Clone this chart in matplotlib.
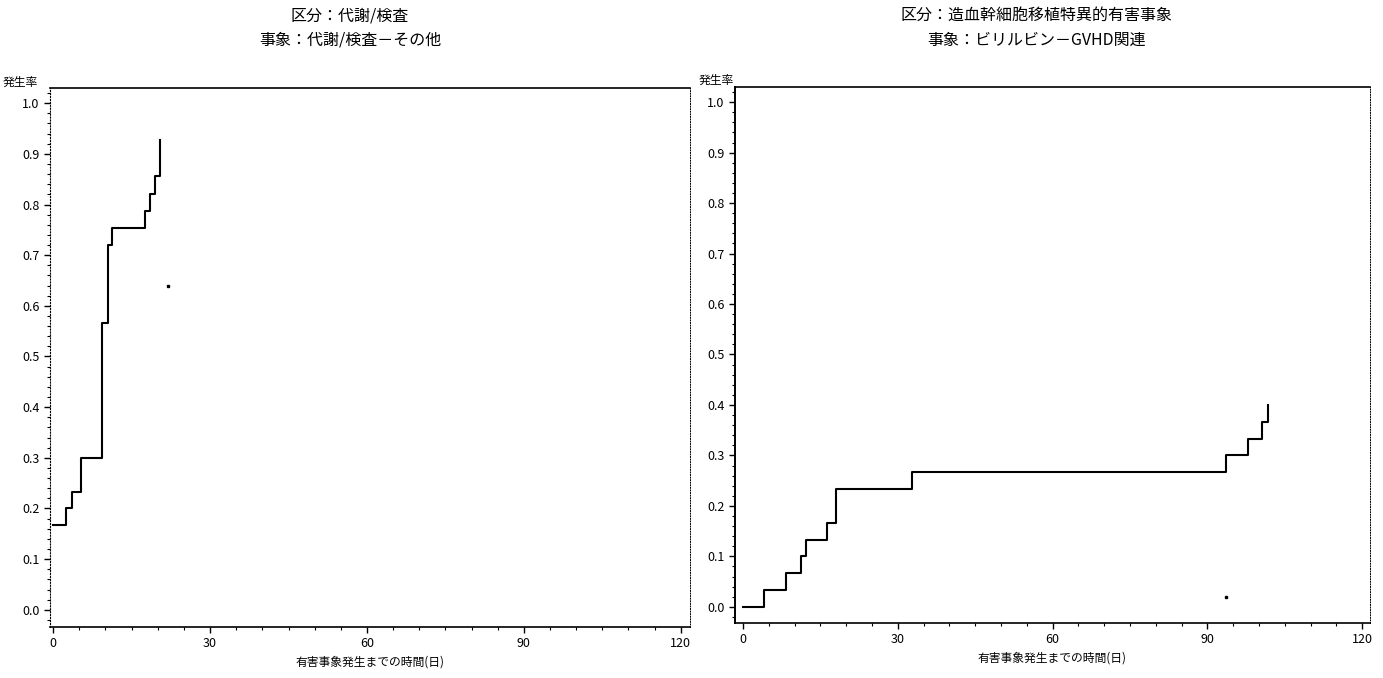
import matplotlib
matplotlib.use('Agg')
import matplotlib.pyplot as plt
from matplotlib.ticker import MultipleLocator, FormatStrFormatter

plt.rcParams['font.family'] = ['Noto Sans CJK JP', 'DejaVu Sans']

# left panel: 代謝/検査 - その他
left_t = [0, 2.5, 3.5, 5.4, 9.4, 10.4, 11.3, 17.6, 18.5, 19.5, 20.4]
left_y = [0.167, 0.2, 0.233, 0.30, 0.567, 0.72, 0.753, 0.787, 0.82, 0.857, 0.927]
left_mark_t = [22.0]
left_mark_y = [0.64]

# right panel: ビリルビン - GVHD関連
right_t = [0, 4.0, 8.3, 11.2, 12.2, 16.2, 18.1, 32.8, 93.6, 97.9, 100.6, 101.7]
right_y = [0.0, 0.033, 0.067, 0.10, 0.133, 0.167, 0.233, 0.267, 0.30, 0.333, 0.367, 0.40]
right_mark_t = [93.6]
right_mark_y = [0.02]

titles = ['区分：代謝/検査\n事象：代謝/検査－その他',
          '区分：造血幹細胞移植特異的有害事象\n事象：ビリルビン－GVHD関連']
xlabel = '有害事象発生までの時間(日)'
ylabel = '発生率'
xticks = [0, 30, 60, 90, 120]

fig = plt.figure(figsize=(13.83, 6.78), dpi=100)
ax1 = fig.add_axes([0.0362, 0.0752, 0.4628, 0.795])
ax2 = fig.add_axes([0.5315, 0.0811, 0.459, 0.7906])

panels = [
    (ax1, left_t, left_y, left_mark_t, left_mark_y, (-0.6, 121.8), (-0.034, 1.03)),
    (ax2, right_t, right_y, right_mark_t, right_mark_y, (-1.55, 121.5), (-0.032, 1.03)),
]

for ax, t, y, mt, my, xl, yl in panels:
    ax.plot(t, y, drawstyle='steps-post', color='black', linewidth=1.5)
    ax.plot(mt, my, linestyle='none', marker='s', markersize=2, color='black')
    ax.set_xlim(*xl)
    ax.set_ylim(*yl)
    ax.set_xticks(xticks)
    ax.xaxis.set_minor_locator(MultipleLocator(5))
    ax.yaxis.set_major_locator(MultipleLocator(0.1))
    ax.yaxis.set_minor_locator(MultipleLocator(0.02))
    ax.yaxis.set_major_formatter(FormatStrFormatter('%.1f'))
    ax.tick_params(which='major', length=4, width=1, labelsize=9, direction='out')
    ax.tick_params(which='minor', length=2, width=0.8, direction='out')
    for s in ['top', 'bottom']:
        ax.spines[s].set_linewidth(1.2)
    ax.spines['right'].set_linestyle(':')
    ax.spines['right'].set_linewidth(0.7)
    ax.set_xlabel(xlabel, fontsize=8.5, labelpad=4)

ax1.spines['left'].set_linestyle(':')
ax1.spines['left'].set_linewidth(0.8)
ax2.spines['left'].set_linewidth(1.4)

fig.text(350 / 1383, 1 - 28 / 678, titles[0], ha='center', va='center',
         fontsize=11.5, linespacing=1.6)
fig.text(1037 / 1383, 1 - 28 / 678, titles[1], ha='center', va='center',
         fontsize=11.5, linespacing=1.6)
fig.text(20 / 1383, 1 - 82 / 678, ylabel, ha='center', va='center', fontsize=8.5)
fig.text(716 / 1383, 1 - 80 / 678, ylabel, ha='center', va='center', fontsize=8.5)

fig.savefig('out.png', dpi=100)
